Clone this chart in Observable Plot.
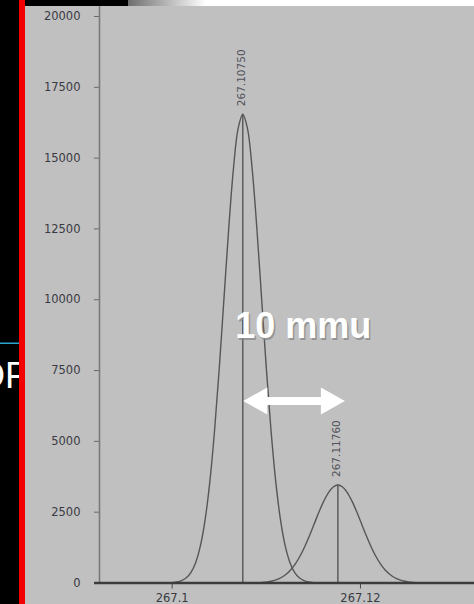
<!DOCTYPE html>
<html>
<head>
<meta charset="utf-8">
<script src="https://cdn.jsdelivr.net/npm/d3@7"></script>
<script src="https://cdn.jsdelivr.net/npm/@observablehq/plot@0.6"></script>
<style>
  html, body { margin: 0; padding: 0; background: #c0c0c0; }
  #stage { position: relative; width: 474px; height: 604px; overflow: hidden; background: #c0c0c0; }
  #stage > svg { position: absolute; left: 0; top: 0; }
  #deco { position: absolute; left: 0; top: 0; pointer-events: none; }
</style>
</head>
<body>
<div id="stage"></div>
<script>
// Centroid peaks: accurate m/z and apex intensity
const peakMz = [267.10750, 267.11760];
const peakIntensity = [16550, 3460];
const peakLabels = ["267.10750", "267.11760"];

// Profile traces of each peak: offset from the centroid (mmu) and intensity
const peak1Offsets = [-8, -7.5, -7, -6.5, -6, -5.5, -5, -4.5, -4, -3.5, -3, -2.5, -2, -1.5, -1, -0.5, 0,
  0.5, 1, 1.5, 2, 2.5, 3, 3.5, 4, 4.5, 5, 5.5, 6, 6.5, 7, 7.5, 8];
const peak1Profile = [0, 15, 36, 84, 184, 377, 727, 1317, 2240, 3580, 5373, 7577, 10040, 12490, 14605, 16040, 16550,
  16040, 14605, 12490, 10040, 7577, 5373, 3580, 2240, 1317, 727, 377, 184, 84, 36, 15, 0];
const peak2Offsets = [-9, -8.5, -8, -7.5, -7, -6.5, -6, -5.5, -5, -4.5, -4, -3.5, -3, -2.5, -2, -1.5, -1, -0.5, 0,
  0.5, 1, 1.5, 2, 2.5, 3, 3.5, 4, 4.5, 5, 5.5, 6, 6.5, 7, 7.5, 8, 8.5, 9];
const peak2Profile = [0, 11, 21, 38, 69, 118, 194, 308, 468, 685, 962, 1299, 1684, 2099, 2512, 2890, 3194, 3391, 3460,
  3391, 3194, 2890, 2512, 2099, 1684, 1299, 962, 685, 468, 308, 194, 118, 69, 38, 21, 11, 0];

// Axis ticks
const yTicks = [0, 2500, 5000, 7500, 10000, 12500, 15000, 17500, 20000];
const xTicks = [267.10, 267.12];
const xTickLabels = ["267.1", "267.12"];

// Spacing annotation between the two peaks
const spacingLabel = "10 mmu";
const spacingLabelY = 9040;
const spacingArrowY = 6408;

const peaks = peakMz.map((mz, i) => ({mz, intensity: peakIntensity[i], label: peakLabels[i]}));
const profile = [
  ...peak1Offsets.map((d, i) => ({peak: 0, mz: peakMz[0] + d / 1000, intensity: peak1Profile[i]})),
  ...peak2Offsets.map((d, i) => ({peak: 1, mz: peakMz[1] + d / 1000, intensity: peak2Profile[i]}))
];

const traceColor = "#565656";
const tickText = "#3a3a42";

const chart = Plot.plot({
  width: 474,
  height: 604,
  marginLeft: 99,
  marginRight: 0,
  marginTop: 6,
  marginBottom: 21.5,
  style: {background: "transparent", fontFamily: "'DejaVu Sans', sans-serif", fontSize: "11px", color: tickText},
  x: {domain: [267.09228, 267.13211], label: null},
  y: {domain: [0, 20353], label: null},
  marks: [
    Plot.axisY({ticks: yTicks, tickSize: 5, tickPadding: 14, tickFormat: d => String(d), fontSize: 11.5,
      stroke: "#6a6a6a", fill: tickText, label: null}),
    Plot.axisX({ticks: xTicks, tickSize: 6, tickPadding: 5, tickFormat: (d, i) => xTickLabels[i], fontSize: 11.5,
      stroke: "#4a4a4a", fill: tickText, label: null}),
    Plot.ruleX([267.09228], {stroke: "#7a7a7a", strokeWidth: 1.6}),
    Plot.line(profile, {x: "mz", y: "intensity", z: "peak", curve: "catmull-rom",
      stroke: traceColor, strokeWidth: 1.4}),
    Plot.ruleX(peaks, {x: "mz", y1: 0, y2: "intensity", stroke: traceColor, strokeWidth: 1.4}),
    Plot.text(peaks, {x: "mz", y: "intensity", text: "label", rotate: -90, textAnchor: "start", dy: -8, dx: -1,
      fontSize: 10.5, fill: "#50505a"}),
    Plot.ruleY([0], {stroke: "#3c3c3c", strokeWidth: 2.6, insetLeft: -5}),
    // label shadow, then label
    Plot.text([spacingLabel], {x: peakMz[0], y: spacingLabelY, text: d => d, textAnchor: "start", dx: -6, dy: 1.5,
      fontSize: 36, fontWeight: "bold", fontFamily: "'Liberation Sans', Arial, sans-serif", fill: "#8a8a8a",
      fillOpacity: 0.8}),
    Plot.text([spacingLabel], {x: peakMz[0], y: spacingLabelY, text: d => d, textAnchor: "start", dx: -7.5,
      fontSize: 36, fontWeight: "bold", fontFamily: "'Liberation Sans', Arial, sans-serif", fill: "#ffffff"})
  ]
});

document.getElementById("stage").appendChild(chart);

// Double-headed arrow spanning the two centroids
const sx = chart.scale("x"), sy = chart.scale("y");
const xa = sx.apply(peakMz[0]) + 1;
const xb = sx.apply(peakMz[1]) + 7.5;
const ya = sy.apply(spacingArrowY);
const head = 24, half = 13.5, shaft = 4;
d3.select(chart).append("path")
  .attr("fill", "#ffffff")
  .attr("d", [
    [xa, ya], [xa + head, ya - half], [xa + head, ya - shaft], [xb - head, ya - shaft], [xb - head, ya - half],
    [xb, ya], [xb - head, ya + half], [xb - head, ya + shaft], [xa + head, ya + shaft], [xa + head, ya + half]
  ].map((p, i) => (i ? "L" : "M") + p[0] + "," + p[1]).join("") + "Z");

// Slide frame around the chart: dark left panel with red rule, top strip
const deco = d3.select("#stage").append("svg")
  .attr("id", "deco").attr("width", 474).attr("height", 604);
const defs = deco.append("defs");
const grad = defs.append("linearGradient").attr("id", "topfade").attr("x1", 0).attr("x2", 1);
grad.append("stop").attr("offset", 0).attr("stop-color", "#6e6e6e");
grad.append("stop").attr("offset", 1).attr("stop-color", "#ffffff");
deco.append("rect").attr("x", 0).attr("y", 0).attr("width", 474).attr("height", 6).attr("fill", "#ffffff");
deco.append("rect").attr("x", 128).attr("y", 0).attr("width", 78).attr("height", 6).attr("fill", "url(#topfade)");
deco.append("rect").attr("x", 0).attr("y", 0).attr("width", 128).attr("height", 6).attr("fill", "#000000");
deco.append("rect").attr("x", 0).attr("y", 0).attr("width", 19).attr("height", 604).attr("fill", "#000000");
deco.append("rect").attr("x", 0).attr("y", 342.5).attr("width", 19).attr("height", 1.5).attr("fill", "#2aa4cc");
const clip = defs.append("clipPath").attr("id", "panelclip");
clip.append("rect").attr("x", 0).attr("y", 0).attr("width", 19).attr("height", 604);
deco.append("text").attr("clip-path", "url(#panelclip)")
  .attr("x", -21).attr("y", 388)
  .attr("font-family", "'Liberation Sans', Arial, sans-serif").attr("font-size", 36).attr("fill", "#ffffff")
  .text("DF");
deco.append("rect").attr("x", 19).attr("y", 0).attr("width", 6).attr("height", 604).attr("fill", "#f20000");
</script>
</body>
</html>
